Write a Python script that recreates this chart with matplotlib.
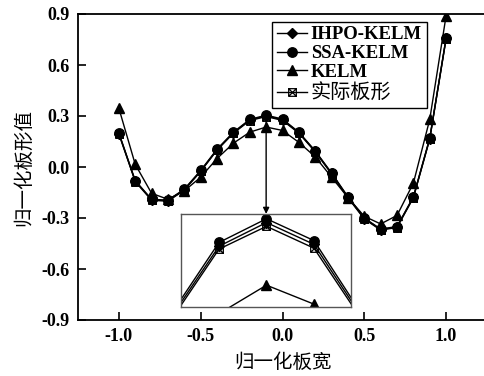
import matplotlib
matplotlib.use("Agg")
import matplotlib.pyplot as plt
from matplotlib.path import Path

# Normalized strip width positions
width_pos = [-1.0, -0.9, -0.8, -0.7, -0.6, -0.5, -0.4, -0.3, -0.2, -0.1, 0.0,
             0.1, 0.2, 0.3, 0.4, 0.5, 0.6, 0.7, 0.8, 0.9, 1.0]

# Normalized flatness values per model
ihpo_kelm = [0.197, -0.083, -0.193, -0.198, -0.133, -0.023, 0.102, 0.202, 0.276, 0.301, 0.278,
             0.202, 0.092, -0.038, -0.178, -0.303, -0.368, -0.353, -0.178, 0.167, 0.757]
ssa_kelm = [0.200, -0.080, -0.190, -0.195, -0.130, -0.020, 0.105, 0.205, 0.280, 0.305, 0.282,
            0.205, 0.095, -0.035, -0.175, -0.300, -0.365, -0.350, -0.175, 0.170, 0.760]
kelm = [0.345, 0.015, -0.155, -0.190, -0.140, -0.060, 0.050, 0.140, 0.205, 0.235, 0.215,
        0.145, 0.060, -0.060, -0.180, -0.290, -0.335, -0.285, -0.095, 0.280, 0.890]
actual = [0.194, -0.086, -0.196, -0.201, -0.136, -0.026, 0.099, 0.199, 0.273, 0.297, 0.274,
          0.199, 0.089, -0.041, -0.181, -0.306, -0.371, -0.356, -0.181, 0.164, 0.754]

series_labels = ["IHPO-KELM", "SSA-KELM", "KELM", "实际板形"]
x_ticks = [-1.0, -0.5, 0.0, 0.5, 1.0]
y_ticks = [-0.9, -0.6, -0.3, 0.0, 0.3, 0.6, 0.9]

LATIN = "Liberation Serif"
CJK = "Noto Sans CJK SC"

# Boxed-cross marker: square outline with both diagonals
boxx = Path([(-1, -1), (1, -1), (1, 1), (-1, 1), (-1, -1), (-1, -1), (1, 1), (-1, 1), (1, -1)],
            [Path.MOVETO, Path.LINETO, Path.LINETO, Path.LINETO, Path.LINETO,
             Path.MOVETO, Path.LINETO, Path.MOVETO, Path.LINETO])

styles = [
    dict(marker="D", ms=5.0, mfc="black", mec="black"),
    dict(marker="o", ms=6.8, mfc="black", mec="black"),
    dict(marker="^", ms=6.8, mfc="black", mec="black"),
    dict(marker=boxx, ms=5.5, mfc="none", mec="black", mew=0.9),
]
all_series = [ihpo_kelm, ssa_kelm, kelm, actual]

fig = plt.figure(figsize=(4.85, 3.76), dpi=100)
ax = fig.add_axes([78 / 485, 56 / 376, 409 / 485, 306 / 376])

handles = []
for vals, lab, st in zip(all_series, series_labels, styles):
    h, = ax.plot(width_pos, vals, color="black", lw=1.0, label=lab, **st)
    handles.append(h)

ax.set_xlim(-1.25, 1.25)
ax.set_ylim(-0.9, 0.9)
ax.set_xticks(x_ticks)
ax.set_yticks(y_ticks)
ax.set_xticklabels([f"{v:.1f}" for v in x_ticks], fontfamily=LATIN, fontweight="bold", fontsize=13)
ax.set_yticklabels([f"{v:.1f}" for v in y_ticks], fontfamily=LATIN, fontweight="bold", fontsize=13)
ax.tick_params(direction="in", length=6, width=1.2, pad=6)
for s in ax.spines.values():
    s.set_linewidth(1.3)

ax.set_xlabel("归一化板宽", fontfamily=CJK, fontsize=14, labelpad=5)
ax.set_ylabel("归一化板形值", fontfamily=CJK, fontsize=14, labelpad=5)

leg = ax.legend(handles=handles, loc="upper left", bbox_to_anchor=(0.475, 0.975),
                frameon=True, fancybox=False, edgecolor="black", framealpha=1,
                prop=dict(family=LATIN, weight="bold", size=13.5),
                handlelength=1.6, handletextpad=0.2, labelspacing=0.08,
                borderpad=0.25, borderaxespad=0.0)
leg.get_frame().set_linewidth(1.0)
cn_text = leg.get_texts()[3]
cn_text.set_fontfamily(CJK)
cn_text.set_fontweight("normal")
cn_text.set_fontsize(14.5)

# Zoomed view around the crest
ins = fig.add_axes([181 / 485, 69 / 376, 170 / 485, 93 / 376])
for vals, st in zip(all_series, styles):
    ins.plot(width_pos, vals, color="black", lw=1.0, **st)
ins.set_xlim(-0.28, 0.078)
ins.set_ylim(0.212, 0.310)
ins.set_xticks([])
ins.set_yticks([])
for s in ins.spines.values():
    s.set_edgecolor("#555555")
    s.set_linewidth(1.0)

ax.annotate("", xy=(-0.1, -0.276), xytext=(-0.1, 0.30),
            arrowprops=dict(arrowstyle="-|>", color="black", lw=1.0,
                            mutation_scale=9, shrinkA=0, shrinkB=0), zorder=1)

fig.savefig("out.png", dpi=100)
